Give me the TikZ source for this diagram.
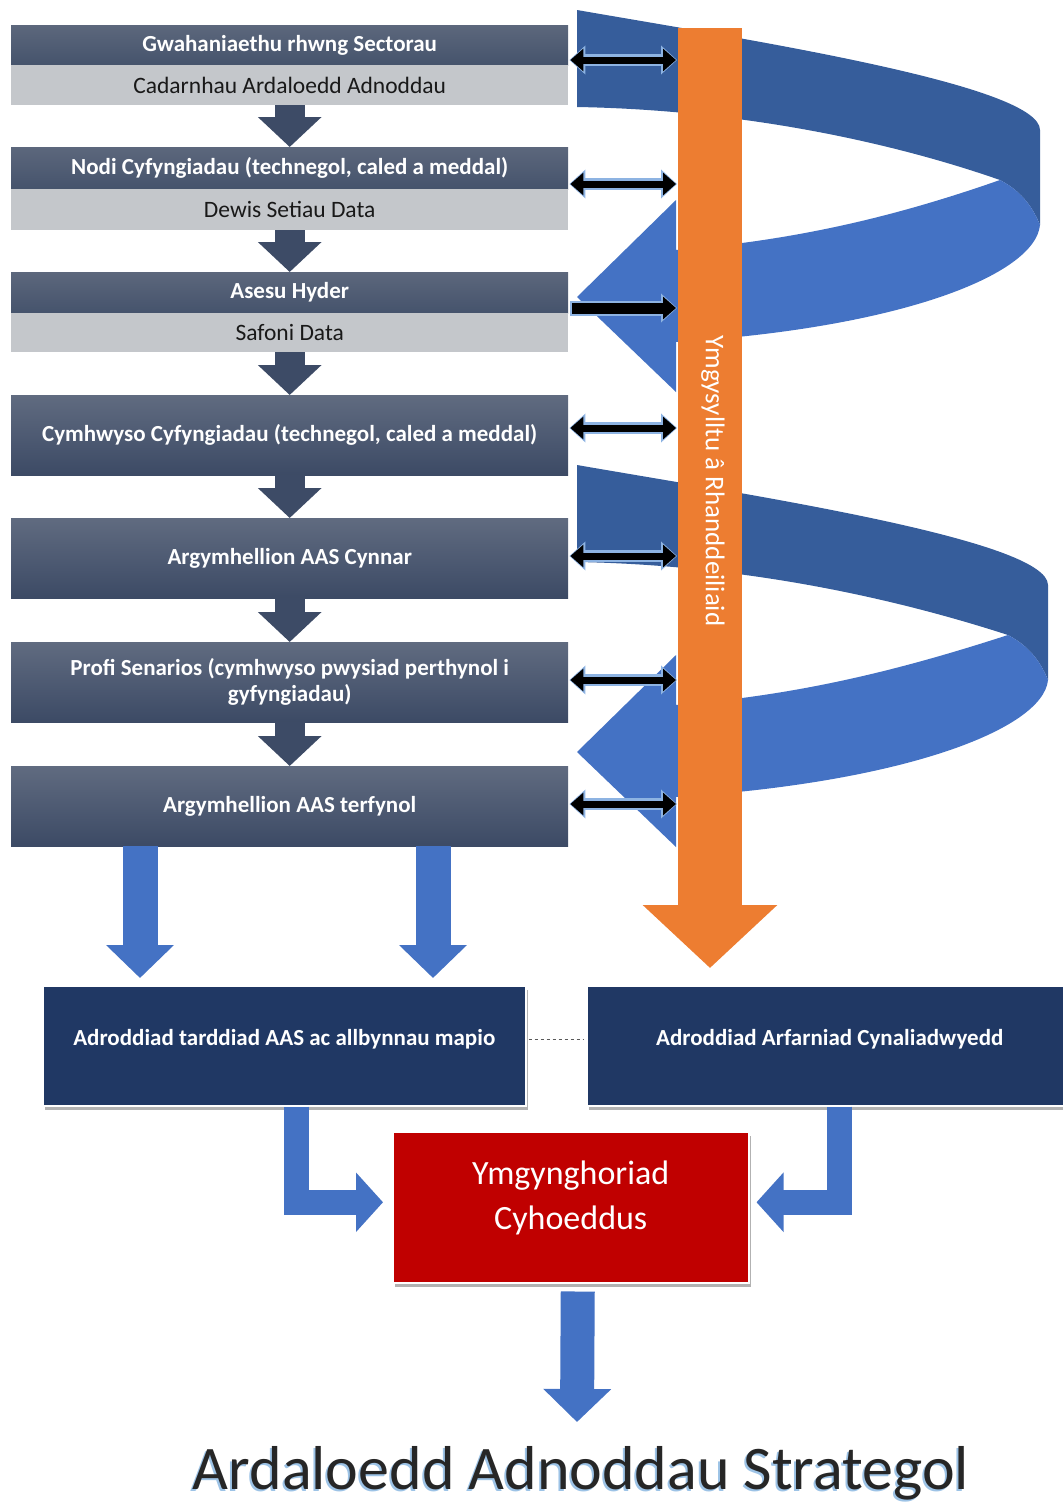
\documentclass[tikz,border=0pt]{standalone}
\usepackage{fontspec}
\setmainfont{Carlito}
\usetikzlibrary{arrows.meta,shadows,calc}
\definecolor{hdrTop}{HTML}{5C677C}
\definecolor{hdrBot}{HTML}{45536C}
\definecolor{bigTop}{HTML}{606B80}
\definecolor{bigBot}{HTML}{3C4A65}
\definecolor{subGray}{HTML}{C4C7CB}
\definecolor{stepArrow}{HTML}{3D4B66}
\definecolor{spiralDark}{HTML}{365D9B}
\definecolor{spiralLight}{HTML}{4472C4}
\definecolor{orangeC}{HTML}{ED7D31}
\definecolor{navyBox}{HTML}{203864}
\definecolor{redBox}{HTML}{C00000}
\definecolor{glowBlue}{HTML}{8DB3E2}
\definecolor{titleShadow}{HTML}{9DC3E6}
\begin{document}
\begin{tikzpicture}[x=1pt,y=-1pt,
  boxfont/.style={font=\fontsize{23}{27}\selectfont\bfseries},
  subfont/.style={font=\fontsize{23.5}{27}\selectfont},
  hdr/.style={top color=hdrTop, bottom color=hdrBot, text=white, minimum width=557pt, inner sep=0pt, anchor=north west, boxfont},
  subbox/.style={fill=subGray, text=black!90, minimum width=557pt, inner sep=0pt, anchor=north west, subfont},
  bigbox/.style={top color=bigTop, bottom color=bigBot, text=white, minimum width=557pt, minimum height=80pt, inner sep=0pt, anchor=north west, align=center, boxfont},
  stepdown/.style={draw=stepArrow, line width=30pt, -{Triangle[width=62pt,length=30pt]}},
  dblglow/.style={draw=glowBlue, line width=12pt, {Triangle[width=28pt,length=16pt]}-{Triangle[width=28pt,length=16pt]}},
  dbl/.style={draw=black, line width=7pt, {Triangle[width=22pt,length=13pt]}-{Triangle[width=22pt,length=13pt]}},
  sglglow/.style={draw=glowBlue, line width=15pt, -{Triangle[width=28pt,length=16pt]}},
  sgl/.style={draw=black, line width=11pt, -{Triangle[width=22pt,length=13pt]}},
  orangearrow/.style={draw=orangeC, line width=64pt, -{Triangle[width=131pt,length=63pt]}},
  bluedown/.style={draw=spiralLight, line width=35pt, -{Triangle[width=66pt,length=33pt]}},
  elbowarrow/.style={draw=spiralLight, line width=25pt, line join=miter, -{Triangle[width=58pt,length=27pt]}},
  navy/.style={fill=navyBox, draw=white, line width=1.5pt, text=white, inner sep=0pt, anchor=north west, boxfont,
    drop shadow={shadow xshift=2pt, shadow yshift=-4pt, opacity=.3, fill=black}},
  redbox/.style={fill=redBox, draw=white, line width=1.5pt, text=white, inner sep=0pt, anchor=north west, align=center,
    font=\fontsize{34}{46}\selectfont, drop shadow={shadow xshift=2pt, shadow yshift=-4pt, opacity=.3, fill=black}},
  titlefont/.style={font=\fontsize{62}{70}\selectfont, anchor=base}
]
\useasboundingbox (0,0) rectangle (1063,1505);

% ---- spirals (behind everything) ----
\foreach \dy/\R in {0/1040,455/1048}{
  \fill[spiralDark] (577,10+\dy) .. controls (750,40+\dy) and (\R,85+\dy) .. (\R,130+\dy)
     -- (\R,225+\dy) .. controls ({\R-10},200+\dy) and ({\R-25},188+\dy) .. ({\R-40},180+\dy)
     .. controls (900,145+\dy) and (750,110+\dy) .. (577,107+\dy) -- cycle;
  \fill[spiralLight] ({\R-40},180+\dy) .. controls ({\R-25},188+\dy) and ({\R-10},200+\dy) .. (\R,225+\dy)
     .. controls ({\R-5},275+\dy) and (900,328+\dy) .. (676,342+\dy)
     -- (676,392+\dy) -- (577,297+\dy) -- (676,200+\dy) -- (676,250+\dy)
     .. controls (800,240+\dy) and (900,215+\dy) .. ({\R-40},180+\dy) -- cycle;
}

% ---- left process boxes ----
\node[hdr, minimum height=40pt] (h1) at (11,25) {Gwahaniaethu rhwng Sectorau};
\node[subbox, minimum height=40pt] (s1) at (11,65) {Cadarnhau Ardaloedd Adnoddau};
\node[hdr, minimum height=42pt] (h2) at (11,147) {Nodi Cyfyngiadau (technegol, caled a meddal)};
\node[subbox, minimum height=41pt] (s2) at (11,189) {Dewis Setiau Data};
\node[hdr, minimum height=41pt] (h3) at (11,272) {Asesu Hyder};
\node[subbox, minimum height=39pt] (s3) at (11,313) {Safoni Data};
\node[bigbox] (b4) at (11,395) {Cymhwyso Cyfyngiadau (technegol, caled a meddal)};
\node[bigbox] (b5) at (11,518) {Argymhellion AAS Cynnar};
\node[bigbox] (b6) at (11,642) {Profi Senarios (cymhwyso pwysiad perthynol i\\[-1pt]gyfyngiadau)};
\node[bigbox] (b7) at (11,766) {Argymhellion AAS terfynol};

\draw[stepdown] (s1.south) -- (h2.north);
\draw[stepdown] (s2.south) -- (h3.north);
\draw[stepdown] (s3.south) -- (b4.north);
\draw[stepdown] (b4.south) -- (b5.north);
\draw[stepdown] (b5.south) -- (b6.north);
\draw[stepdown] (b6.south) -- (b7.north);

% ---- orange stakeholder arrow ----
\coordinate (oTop) at (710,28);
\coordinate (oTip) at (710,968);
\coordinate (oL) at (678,0);
\draw[orangearrow] (oTop) -- (oTip);
\node[rotate=-90, text=white, font=\fontsize{27}{30}\selectfont] (olab) at (713,481) {Ymgysylltu â Rhanddeiliaid};

% ---- black connectors ----
\foreach \n/\yy in {h1/60, h2/184, b4/428, b5/556, b6/680, b7/804}{
  \draw[dblglow, shorten <=1pt, shorten >=1pt] (\n.east |- 0,\yy) -- (oL |- 0,\yy);
  \draw[dbl, shorten <=2pt, shorten >=2pt] (\n.east |- 0,\yy) -- (oL |- 0,\yy);
}
\draw[sglglow, shorten <=2pt, shorten >=1pt] (h3.east |- 0,308) -- (oL |- 0,308);
\draw[sgl, shorten <=4pt, shorten >=2pt] (h3.east |- 0,308) -- (oL |- 0,308);

% ---- bottom boxes ----
\node[navy, minimum width=483pt, minimum height=120pt, text depth=16pt] (A) at (42,985) {Adroddiad tarddiad AAS ac allbynnau mapio};
\node[navy, minimum width=486pt, minimum height=120pt, text depth=16pt] (B) at (586,985) {Adroddiad Arfarniad Cynaliadwyedd};
\draw[dashed, draw=black!65, line width=1pt] ($(A.east)+(2,-6)$) -- ($(B.west)+(-2,-6)$);

\draw[bluedown] ($(b7.south west)+(129,0)$) -- ($(A.north west)+(98,-7)$);
\draw[bluedown] ($(b7.south west)+(422,0)$) -- ($(A.north west)+(391,-7)$);

\node[redbox, minimum width=356pt, minimum height=151pt] (R) at (392,1131) {Ymgynghoriad\\[-1pt]Cyhoeddus\\[-22pt]\mbox{}};

\draw[elbowarrow] ($(A.south west)+(254,0)$) |- ($(R.west)+(-9,-5)$);
\draw[elbowarrow] ($(B.south west)+(253,0)$) |- ($(R.east)+(7,-5)$);

\coordinate (tipT) at (577,1422);
\draw[bluedown, line width=34pt] ($(R.south)+(7,8)$) -- (tipT);

\node[titlefont, text=titleShadow] (Tsh) at (579,1491) {Ardaloedd Adnoddau Strategol};
\node[titlefont, text=black!85] (T) at (581,1489) {Ardaloedd Adnoddau Strategol};
\end{tikzpicture}
\end{document}
